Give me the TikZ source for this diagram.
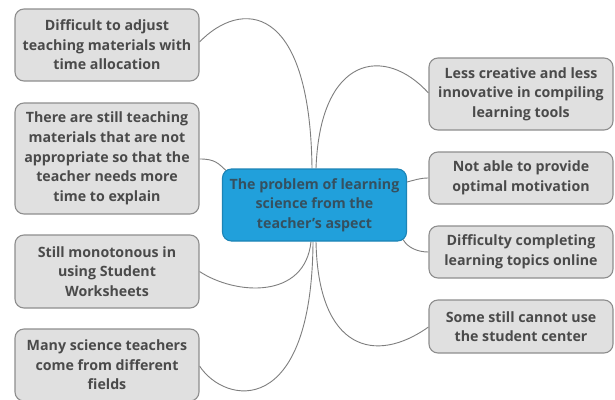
\documentclass[tikz,border=0pt]{standalone}
\usepackage{fontspec}
\setmainfont{Open Sans}
\usetikzlibrary{backgrounds}
\definecolor{boxfill}{HTML}{E0E0E0}
\definecolor{boxline}{HTML}{8E8E8E}
\definecolor{boxtext}{HTML}{4A4A4A}
\definecolor{hubfill}{HTML}{21A0DB}
\definecolor{hubline}{HTML}{1C84B6}
\definecolor{hubtext}{HTML}{35505F}
\definecolor{linkgray}{HTML}{7E7E7E}
\tikzset{
  topic/.style={rectangle, rounded corners=9pt, draw=boxline, fill=boxfill,
    line width=1.1pt, minimum width=184pt, inner sep=0pt, align=center,
    text=boxtext, font=\fontsize{14.2}{19.6}\selectfont\bfseries},
  hub/.style={topic, draw=hubline, fill=hubfill, text=hubtext},
  link/.style={draw=linkgray, line width=0.9pt}
}
\begin{document}
\begin{tikzpicture}[x=1pt,y=-1pt]
\useasboundingbox (0,0) rectangle (615,399);

% central topic
\node[hub, minimum height=72pt] (C) at (314.5,205)
  {The problem of learning\\science from the\\teacher's aspect};

% left branch
\node[topic, minimum height=72pt] (B1) at (107,45)
  {Difficult to adjust\\teaching materials with\\time allocation};
\node[topic, minimum height=111pt] (B2) at (107,158.5)
  {There are still teaching\\materials that are not\\appropriate so that the\\teacher needs more\\time to explain};
\node[topic, minimum height=73pt] (B3) at (107,271.5)
  {Still monotonous in\\using Student\\Worksheets};
\node[topic, minimum height=72pt] (B4) at (107,365)
  {Many science teachers\\come from different\\fields};

% right branch
\node[topic, minimum height=72pt] (R1) at (521,94)
  {Less creative and less\\innovative in compiling\\learning tools};
\node[topic, minimum height=52pt] (R2) at (521,178)
  {Not able to provide\\optimal motivation};
\node[topic, minimum height=52pt] (R3) at (521,252)
  {Difficulty completing\\learning topics online};
\node[topic, minimum height=53pt] (R4) at (521,326.5)
  {Some still cannot use\\the student center};

% curved connectors behind the boxes
\begin{scope}[on background layer]
\fill[white] (0,0) rectangle (615,399);
\draw[link] ([xshift=-2.5pt]C.north) .. controls (310,0) and (240,0) .. ([yshift=3pt]B1.east);
\draw[link] ([yshift=-0.5pt]B2.east) .. controls (215,159) and (218,163) .. ([shift={(5,3)}]C.north west);
\draw[link] ([xshift=-3.5pt]C.south) .. controls (305,300) and (235,295) .. (B3.east);
\draw[link] ([xshift=-1.5pt]C.south) .. controls (312,420) and (225,405) .. ([yshift=-1pt]B4.east);
\draw[link] ([xshift=1.5pt]C.north) .. controls (320,55) and (385,45) .. ([yshift=1pt]R1.west);
\draw[link] ([yshift=23pt]C.east) .. controls (415,180) and (420,178) .. (R2.west);
\draw[link] ([shift={(-4,-2)}]C.south east) .. controls (408,248) and (418,252) .. (R3.west);
\draw[link] ([xshift=1.5pt]C.south) .. controls (318,350) and (375,365) .. ([yshift=-0.5pt]R4.west);
\end{scope}
\end{tikzpicture}
\end{document}
